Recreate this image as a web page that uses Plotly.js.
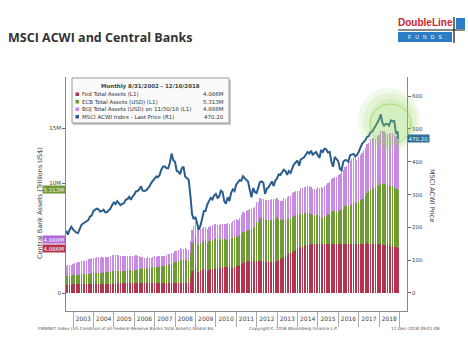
<!DOCTYPE html>
<html><head><meta charset="utf-8">
<script src="https://cdn.plot.ly/plotly-3.0.1.min.js"></script>
<style>html,body{margin:0;padding:0;background:#fff;}#chart{width:468px;height:353px;}</style>
</head><body><div id="chart"></div>
<script>
// ---- data (monthly, Aug 2002 .. Dec 2018) ----
var startYear = 2002, startMonth = 8, lastDate = '2018-12-10';
var fedAssets = [
0.76,0.76,0.77,0.77,0.78,
0.78,0.78,0.79,0.79,0.80,0.80,0.80,0.81,0.81,0.81,0.82,0.82,
0.82,0.83,0.83,0.83,0.84,0.84,0.84,0.85,0.85,0.85,0.86,0.86,
0.86,0.86,0.87,0.87,0.87,0.87,0.88,0.88,0.88,0.89,0.89,0.89,
0.89,0.89,0.90,0.90,0.90,0.90,0.91,0.91,0.91,0.91,0.92,0.92,
0.92,0.92,0.92,0.93,0.93,0.93,0.93,0.94,0.94,0.94,0.94,0.95,
0.93,0.93,0.92,0.91,0.91,0.91,0.92,0.92,1.50,1.97,2.10,2.24,
1.95,1.90,2.08,2.19,2.16,2.06,2.04,2.10,2.15,2.15,2.19,2.24,
2.24,2.28,2.31,2.33,2.35,2.34,2.33,2.30,2.30,2.31,2.40,2.42,
2.48,2.55,2.67,2.72,2.79,2.86,2.87,2.85,2.86,2.87,2.90,2.93,
2.92,2.92,2.88,2.85,2.85,2.87,2.86,2.83,2.82,2.83,2.86,2.92,
3.00,3.10,3.20,3.30,3.40,3.50,3.60,3.65,3.75,3.85,3.95,4.03,
4.10,4.18,4.22,4.28,4.33,4.37,4.40,4.42,4.45,4.48,4.48,4.49,
4.48,4.50,4.49,4.49,4.48,4.50,4.49,4.48,4.48,4.48,4.48,4.49,
4.49,4.48,4.48,4.48,4.46,4.47,4.45,4.46,4.47,4.48,4.48,4.45,
4.47,4.48,4.47,4.50,4.51,4.50,4.48,4.48,4.47,4.46,4.45,4.44,
4.42,4.40,4.39,4.36,4.34,4.32,4.30,4.26,4.22,4.15,4.12,4.086];
var ecbAssets = [
0.78,0.79,0.80,0.82,0.84,
0.86,0.86,0.88,0.89,0.93,0.92,0.91,0.92,0.94,0.95,0.98,1.00,
1.00,1.01,1.00,0.99,1.01,1.03,1.03,1.04,1.07,1.10,1.14,1.18,
1.15,1.16,1.14,1.15,1.13,1.12,1.15,1.17,1.17,1.16,1.15,1.18,
1.22,1.22,1.26,1.30,1.33,1.32,1.32,1.35,1.34,1.35,1.42,1.48,
1.45,1.47,1.50,1.55,1.54,1.55,1.60,1.63,1.70,1.74,1.76,1.90,
1.90,1.96,2.05,2.07,2.06,2.10,2.08,2.00,2.15,2.60,2.65,2.90,
2.55,2.50,2.45,2.48,2.55,2.70,2.55,2.62,2.60,2.65,2.70,2.66,
2.57,2.52,2.60,2.55,2.55,2.50,2.58,2.50,2.60,2.70,2.65,2.75,
2.60,2.70,2.70,2.85,2.75,2.80,2.85,2.90,3.00,3.05,3.10,3.50,
3.50,3.90,3.95,3.95,3.80,3.80,3.75,3.80,3.85,3.85,3.90,3.96,
3.70,3.55,3.45,3.40,3.25,3.20,3.20,3.05,3.20,3.15,3.10,3.10,
3.00,3.05,3.00,3.00,2.90,2.90,2.90,2.80,2.60,2.60,2.60,2.62,
2.48,2.43,2.35,2.50,2.55,2.66,2.72,2.90,2.95,2.95,2.90,3.00,
3.05,3.10,3.20,3.40,3.45,3.45,3.55,3.60,3.70,3.75,3.70,3.90,
4.00,4.05,4.20,4.30,4.55,4.75,5.00,5.10,5.10,5.05,5.30,5.35,
5.55,5.50,5.50,5.45,5.35,5.40,5.45,5.45,5.45,5.35,5.35,5.313];
var bojAssets = [
0.95,0.97,0.98,1.00,1.03,
1.05,1.10,1.12,1.15,1.18,1.20,1.22,1.25,1.30,1.35,1.38,1.40,
1.40,1.42,1.45,1.40,1.38,1.35,1.36,1.35,1.38,1.40,1.42,1.40,
1.40,1.42,1.40,1.38,1.36,1.35,1.33,1.35,1.32,1.30,1.28,1.32,
1.32,1.25,1.20,1.10,1.05,1.00,0.98,0.97,0.97,0.96,0.95,0.95,
0.92,0.93,0.92,0.90,0.90,0.90,0.91,0.95,0.95,0.95,0.96,0.98,
1.00,1.05,1.10,1.05,1.05,1.04,1.03,1.03,1.10,1.20,1.30,1.35,
1.40,1.30,1.28,1.25,1.25,1.25,1.25,1.30,1.35,1.35,1.40,1.35,
1.35,1.35,1.33,1.35,1.40,1.40,1.45,1.50,1.50,1.55,1.55,1.55,
1.55,1.55,1.75,1.75,1.75,1.75,1.80,1.85,1.80,1.80,1.80,1.85,
1.85,1.80,1.75,1.75,1.80,1.80,1.85,1.85,1.85,1.85,1.80,1.75,
1.75,1.75,1.75,1.90,1.90,2.00,2.05,2.10,2.10,2.20,2.20,2.15,
2.20,2.30,2.35,2.40,2.40,2.45,2.45,2.45,2.40,2.40,2.35,2.50,
2.60,2.70,2.70,2.75,2.80,2.85,2.90,3.00,3.05,3.10,3.20,3.20,
3.30,3.40,3.50,3.60,3.60,3.90,4.00,4.10,4.20,4.10,3.90,4.00,
4.10,4.20,4.30,4.40,4.45,4.40,4.50,4.55,4.55,4.50,4.50,4.60,
4.75,4.85,4.80,4.75,4.75,4.80,4.80,4.80,4.70,4.80,4.85,4.888];
var msciAcwi = [
190,178,192,202,194,
188,184,183,198,208,212,216,220,222,233,236,250,
253,257,255,248,250,254,246,247,252,257,268,276,
271,280,274,268,272,274,284,286,293,284,294,300,
310,311,316,325,312,311,313,320,325,336,343,350,
355,353,360,376,385,386,380,380,397,425,405,400,
372,370,362,380,385,355,350,345,300,240,225,232,
212,193,205,228,250,250,270,280,290,285,297,302,
290,294,312,308,280,272,292,280,305,316,311,330,
337,344,342,356,350,345,340,315,292,320,308,305,
322,338,340,336,302,318,322,330,340,326,342,350,
362,360,367,376,372,360,372,366,380,393,398,404,
388,407,410,414,422,430,425,434,422,425,430,420,
412,436,430,440,438,428,430,400,385,415,410,402,
378,374,400,405,405,400,420,421,424,417,420,430,
442,454,460,466,476,478,490,492,501,511,521,528,
545,520,510,515,515,510,526,523,525,485,492,470.20];
var seriesNames = ['Fed Total Assets (L1)','ECB Total Assets (USD) (L1)','BOJ Total Assets (USD) on 11/30/18 (L1)','MSCI ACWI Index - Last Price (R1)'];
var seriesLabels = ['4.086M','5.313M','4.888M','470.20'];
var leftTickVals = [0,5,10,15], leftTickText = ['0','','10M','15M'];
var rightTickVals = [0,100,200,300,400,500,600];

// ---- dates ----
function pad(n){return (n<10?'0':'')+n;}
var dates = [];
for (var i=0;i<fedAssets.length;i++){
  var m = startMonth-1+i, y = startYear+Math.floor(m/12), mm = m%12;
  var d = new Date(Date.UTC(y, mm+1, 0));
  dates.push(d.getUTCFullYear()+'-'+pad(d.getUTCMonth()+1)+'-'+pad(d.getUTCDate()));
}
dates[dates.length-1] = lastDate;

var cRed='#b3344f', cGreen='#6f9b33', cPurple='#c98ae6', cBlue='#2b5e8e';
var F = 'DejaVu Sans, Verdana, sans-serif';
var barW = 21*86400000;

// pixel -> paper helpers (plot area 66..407 x 77..311)
function px(x){return (x-66)/341;}
function py(y){return (311-y)/234;}

var traces = [
 {type:'bar', x:dates, y:fedAssets, width:barW, name:seriesNames[0], marker:{color:cRed, line:{width:0}}, hoverinfo:'skip'},
 {type:'bar', x:dates, y:ecbAssets, width:barW, name:seriesNames[1], marker:{color:cGreen, line:{width:0}}, hoverinfo:'skip'},
 {type:'bar', x:dates, y:bojAssets, width:barW, name:seriesNames[2], marker:{color:cPurple, line:{width:0}}, hoverinfo:'skip'},
 {type:'scatter', mode:'lines', x:dates, y:msciAcwi, yaxis:'y2', name:seriesNames[3], line:{color:cBlue, width:2}, hoverinfo:'skip'}
];

var n = fedAssets.length-1;
var shapes = [
 // legend box
 {type:'rect', xref:'paper', yref:'paper', x0:px(73), x1:px(231), y0:py(125), y1:py(80), fillcolor:'#c8c8c8', line:{width:0}},
 {type:'rect', xref:'paper', yref:'paper', x0:px(72), x1:px(229), y0:py(123), y1:py(78), fillcolor:'#fafafa', line:{color:'#9a9a9a', width:1}},
 // legend squares
 {type:'rect', xref:'paper', yref:'paper', x0:px(75.5), x1:px(79), y0:py(96), y1:py(92.5), fillcolor:cRed, line:{width:0}},
 {type:'rect', xref:'paper', yref:'paper', x0:px(75.5), x1:px(79), y0:py(103.5), y1:py(100), fillcolor:cGreen, line:{width:0}},
 {type:'rect', xref:'paper', yref:'paper', x0:px(75.5), x1:px(79), y0:py(111), y1:py(107.5), fillcolor:cPurple, line:{width:0}},
 {type:'rect', xref:'paper', yref:'paper', x0:px(75.5), x1:px(79), y0:py(118.5), y1:py(115), fillcolor:cBlue, line:{width:0}},
 // green glow
 {type:'circle', xref:'paper', yref:'paper', x0:px(358), x1:px(420), y0:py(152), y1:py(88), fillcolor:'rgba(140,215,80,0.12)', line:{width:0}},
 {type:'circle', xref:'paper', yref:'paper', x0:px(363), x1:px(417), y0:py(148), y1:py(93), fillcolor:'rgba(140,215,80,0.14)', line:{width:0}},
 {type:'circle', xref:'paper', yref:'paper', x0:px(369), x1:px(413), y0:py(143), y1:py(99), fillcolor:'rgba(150,220,90,0.16)', line:{width:0}},
 {type:'circle', xref:'paper', yref:'paper', x0:px(370), x1:px(411), y0:py(144), y1:py(104), fillcolor:'rgba(0,0,0,0)', line:{color:'#9ad35c', width:0.8}},
 // logo
 {type:'rect', xref:'paper', yref:'paper', x0:px(398), x1:px(452), y0:py(42), y1:py(32), fillcolor:'#2c7cc6', line:{width:0}},
 {type:'rect', xref:'paper', yref:'paper', x0:px(456), x1:px(465), y0:py(29), y1:py(18), fillcolor:'#2c7cc6', line:{width:0}},
 {type:'line', xref:'paper', yref:'paper', x0:px(398), x1:px(465), y0:py(30), y1:py(30), line:{color:'#111', width:1}},
 {type:'line', xref:'paper', yref:'paper', x0:px(454), x1:px(454), y0:py(17), y1:py(43), line:{color:'#111', width:1.2}}
];

var ann = [
 {xref:'paper', yref:'paper', x:px(6), y:py(38), xanchor:'left', yanchor:'middle', showarrow:false,
  text:'<b>MSCI ACWI and Central Banks</b>', font:{family:'Open Sans, sans-serif', size:12.5, color:'#333'}},
 {xref:'paper', yref:'paper', x:px(425), y:py(23), xanchor:'center', yanchor:'middle', showarrow:false,
  text:'<b>DoubleLine</b>', font:{family:'Liberation Sans Narrow, Liberation Sans, Arial, sans-serif', size:10, color:'#c8262f'}},
 {xref:'paper', yref:'paper', x:px(425), y:py(37.5), xanchor:'center', yanchor:'middle', showarrow:false,
  text:'F&nbsp;&nbsp;&nbsp;U&nbsp;&nbsp;&nbsp;N&nbsp;&nbsp;&nbsp;D&nbsp;&nbsp;&nbsp;S', font:{family:'Liberation Sans, sans-serif', size:5, color:'#fff'}},
 // legend text
 {xref:'paper', yref:'paper', x:px(150), y:py(87), xanchor:'center', yanchor:'middle', showarrow:false,
  text:'<b>Monthly 8/31/2002 - 12/10/2018</b>', font:{family:F, size:5.5, color:'#444'}},
 // axis titles
 {xref:'paper', yref:'paper', x:px(40), y:py(203), xanchor:'center', yanchor:'middle', showarrow:false, textangle:-90,
  text:'Central Bank Assets (Trillions US$)', font:{family:F, size:6.5, color:'#444'}},
 {xref:'paper', yref:'paper', x:px(432), y:py(195), xanchor:'center', yanchor:'middle', showarrow:false, textangle:90,
  text:'MSCI ACWI Price', font:{family:F, size:6.5, color:'#444'}},
 // footer
 {xref:'paper', yref:'paper', x:px(36), y:py(328), xanchor:'left', yanchor:'middle', showarrow:false,
  text:'FIRBNET Index (US Condition of All Federal Reserve Banks Total Assets) Global Ba', font:{family:F, size:4.3, color:'#555'}},
 {xref:'paper', yref:'paper', x:px(293), y:py(328), xanchor:'center', yanchor:'middle', showarrow:false,
  text:'Copyright© 2018 Bloomberg Finance L.P.', font:{family:F, size:4.3, color:'#555'}},
 {xref:'paper', yref:'paper', x:px(415), y:py(328), xanchor:'center', yanchor:'middle', showarrow:false,
  text:'12-Dec-2018 09:01:08', font:{family:F, size:4.3, color:'#555'}}
];
var rowsY = [94.5, 102, 109.5, 117];
for (var k=0;k<4;k++){
  ann.push({xref:'paper', yref:'paper', x:px(80), y:py(rowsY[k]), xanchor:'left', yanchor:'middle', showarrow:false,
    text:seriesNames[k], font:{family:F, size:5.5, color:'#333'}});
  ann.push({xref:'paper', yref:'paper', x:px(226), y:py(rowsY[k]), xanchor:'right', yanchor:'middle', showarrow:false,
    text:seriesLabels[k], font:{family:F, size:5.5, color:'#333'}});
}
// value tags
ann.push({xref:'paper', yref:'y', x:0, y:fedAssets[n]+ecbAssets[n], xanchor:'right', yanchor:'middle', showarrow:false,
  text:seriesLabels[1], bgcolor:cGreen, borderpad:0.5, font:{family:F, size:5.5, color:'#eef'}});
ann.push({xref:'paper', yref:'y', x:0, y:bojAssets[n], xanchor:'right', yanchor:'middle', showarrow:false,
  text:seriesLabels[2], bgcolor:'#b068d8', borderpad:0.5, font:{family:F, size:5.5, color:'#fff'}});
ann.push({xref:'paper', yref:'y', x:0, y:fedAssets[n], xanchor:'right', yanchor:'middle', showarrow:false,
  text:seriesLabels[0], bgcolor:cRed, borderpad:0.5, font:{family:F, size:5.5, color:'#fff'}});
ann.push({xref:'paper', yref:'y2', x:1, y:msciAcwi[n], xanchor:'left', yanchor:'middle', showarrow:false,
  text:seriesLabels[3], bgcolor:'#2f6f9a', borderpad:0.5, font:{family:F, size:5.5, color:'#dff'}});

var layout = {
  width:468, height:353,
  margin:{l:66, r:61, t:77, b:42, pad:0},
  paper_bgcolor:'#fff', plot_bgcolor:'#fff',
  showlegend:false, barmode:'stack',
  font:{family:F, size:6, color:'#444'},
  xaxis:{type:'date', range:['2002-08-27','2019-05-16'], tick0:'2003-01-01', dtick:'M12', tickformat:'%Y',
    ticklabelmode:'period', ticks:'outside', ticklen:15, tickcolor:'#aaa', tickwidth:1,
    showline:true, linecolor:'#888', linewidth:1, showgrid:false, zeroline:false,
    ticklabelstandoff:-13, tickfont:{family:F, size:6, color:'#444'}},
  yaxis:{range:[-1.636,19.636], tickmode:'array', tickvals:leftTickVals, ticktext:leftTickText,
    ticks:'outside', ticklen:3, tickcolor:'#666', showline:true, linecolor:'#888', linewidth:1,
    showgrid:false, zeroline:false, tickfont:{family:F, size:5.5, color:'#444'}},
  yaxis2:{overlaying:'y', side:'right', range:[-54.9,658.5], tickmode:'array', tickvals:rightTickVals,
    ticks:'outside', ticklen:3, tickcolor:'#666', showline:true, linecolor:'#888', linewidth:1,
    showgrid:false, zeroline:false, tickfont:{family:F, size:5.5, color:'#444'}},
  shapes:shapes, annotations:ann
};
Plotly.newPlot('chart', traces, layout, {staticPlot:true, displayModeBar:false});
</script></body></html>
